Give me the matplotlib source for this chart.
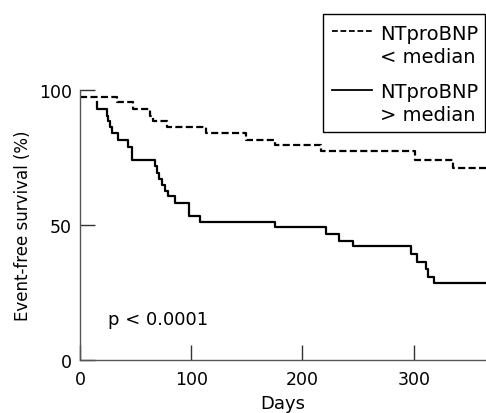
import matplotlib
matplotlib.use("Agg")
import matplotlib.pyplot as plt
from matplotlib.lines import Line2D
from matplotlib.patches import Rectangle

plt.rcParams.update({
    "font.family": ["DejaVu Sans"],
    "font.size": 13,
})

# Kaplan-Meier steps (day, % event free after that day)
low_days = [0, 33, 48, 63, 65.5, 78, 113, 149, 175.5, 217, 301.5, 335, 365]
low_surv = [97.3, 95.4, 93.0, 90.5, 88.4, 86.4, 83.9, 81.5, 79.6, 77.3, 73.9, 71.0, 71.0]

high_days = [15.0, 15.0, 24.0, 25.5, 27.0, 28.5, 34.5, 43.5, 46.5, 67.6, 69.1, 71.2,
             73.6, 76.6, 79.0, 85.0, 97.6, 108.1, 175.5, 221.6, 232.7, 245.6,
             297.3, 303.3, 310.8, 313.2, 318.3, 365]
high_surv = [95.4, 93.0, 90.5, 88.6, 86.2, 84.0, 81.5, 79.0, 74.2, 72.0, 69.1, 67.0,
             64.9, 62.5, 60.9, 58.0, 53.5, 51.0, 49.1, 46.7, 44.2, 42.1,
             39.3, 36.2, 33.7, 30.9, 28.4, 28.4]

legend_lines = ["NTproBNP\n< median", "NTproBNP\n> median"]
x_ticks = [0, 100, 200, 300]
y_ticks = [0, 50, 100]

W, H = 486, 414
fig = plt.figure(figsize=(W / 100, H / 100), dpi=100)
ax = fig.add_axes([80 / W, 1 - 361 / H, 406 / W, 270 / H])

ax.plot(low_days, low_surv, drawstyle="steps-post", color="black", lw=1.6,
        dashes=(3.2, 1.5), clip_on=False)
ax.plot(high_days, high_surv, drawstyle="steps-post", color="black", lw=1.6,
        clip_on=False)

ax.set_xlim(0, 365)
ax.set_ylim(0, 100)
ax.set_xticks(x_ticks)
ax.set_yticks(y_ticks)
ax.tick_params(direction="in", length=10.5, width=1.0, color="#333333", labelsize=12.5)
ax.tick_params(axis="y", pad=6)
ax.tick_params(axis="x", pad=7)

for s in ["top", "right"]:
    ax.spines[s].set_visible(False)
for s in ["left", "bottom"]:
    ax.spines[s].set_color("#555555")
    ax.spines[s].set_linewidth(1.0)

ax.set_xlabel("Days", fontsize=13)
ax.set_ylabel("Event-free survival (%)", fontsize=12)
ax.xaxis.set_label_coords(0.5, -0.125)
ax.yaxis.set_label_coords(-0.118, 0.5)

ax.text(25, 15, "p < 0.0001", fontsize=13, va="center", ha="left")

# legend box drawn by hand (handle sits on first text line)
def fx(px):
    return px / W

def fy(py):
    return 1 - py / H

fig.add_artist(Rectangle((fx(323), fy(133)), fx(485) - fx(323), fy(15) - fy(133),
                         transform=fig.transFigure, fill=False, ec="black", lw=1.0))
handle_y = [32, 91]
text_y = [34, 92]
styles = [dict(dashes=(3.2, 1.5)), dict()]
for hy, ty, lab, st in zip(handle_y, text_y, legend_lines, styles):
    fig.add_artist(Line2D([fx(332), fx(372)], [fy(hy), fy(hy)], color="black",
                          lw=1.3, transform=fig.transFigure, **st))
    fig.text(fx(380), fy(ty - 9), lab, fontsize=14, va="top", ha="left",
             linespacing=1.25)

fig.savefig("out.png", dpi=100)
